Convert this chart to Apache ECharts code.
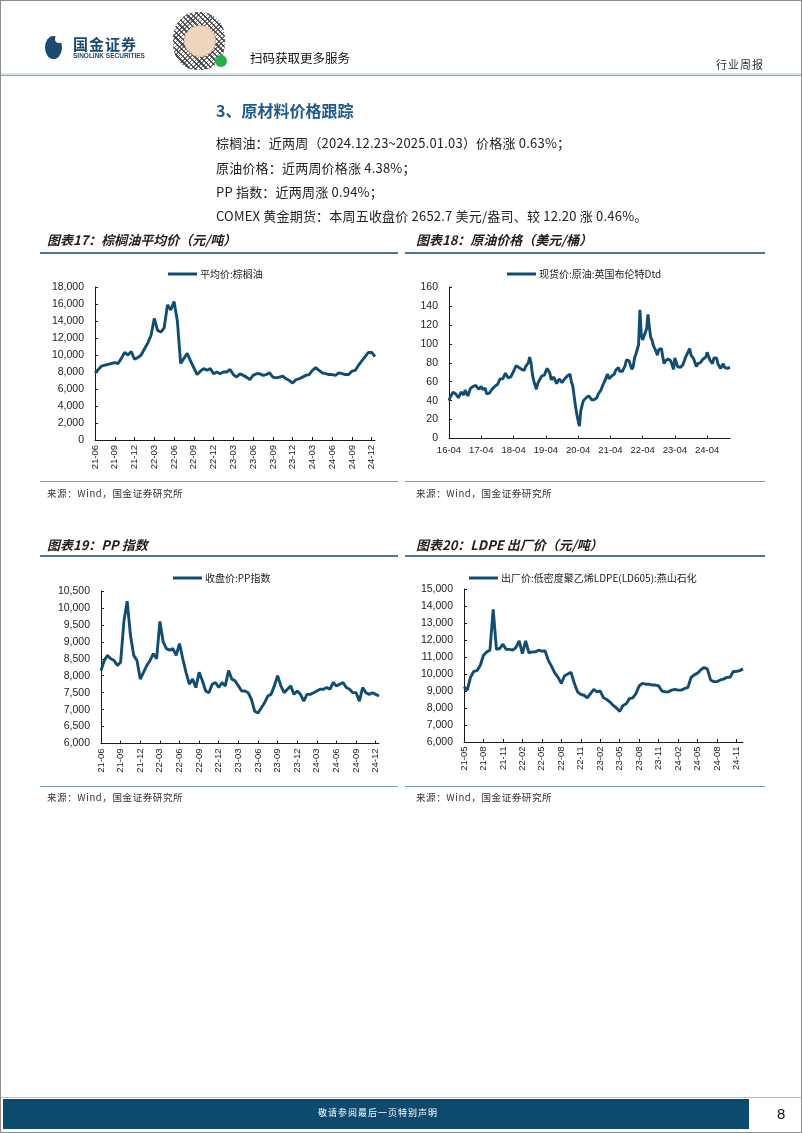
<!DOCTYPE html>
<html>
<head>
<meta charset="utf-8">
<script src="https://cdn.jsdelivr.net/npm/echarts@6/dist/echarts.min.js"></script>
<style>
html,body{margin:0;padding:0;background:#fff;}
#page{position:relative;width:802px;height:1133px;overflow:hidden;font-family:"Noto Sans CJK SC","Noto Sans",sans-serif;color:#222;}
#chart{position:absolute;left:0;top:0;width:802px;height:1133px;}
.t{position:absolute;white-space:nowrap;}
.ln{position:absolute;}
.body{font-size:13px;line-height:18px;left:216px;color:#222;letter-spacing:0.2px;}
.ct{font-size:13px;line-height:18px;font-weight:bold;font-style:italic;color:#1e1e1e;}
.src{font-size:9.5px;line-height:12px;color:#333;letter-spacing:0.6px;}
#frame{position:absolute;left:0;top:0;width:800px;height:1131px;border:1px solid #8c8c8c;pointer-events:none;}
</style>
</head>
<body>
<div id="page">
  <div id="chart"></div>

  <!-- header -->
  <div class="ln" style="left:45px;top:36px;width:17px;height:23px;border-radius:50%;background:#1c4a6f;"></div>
  <div class="ln" style="left:55px;top:35px;width:8px;height:8px;border-radius:50%;background:#fff;"></div>
  <div class="t" style="left:73px;top:35px;font-size:15px;line-height:18px;font-weight:bold;color:#1c4a6f;letter-spacing:1px;">国金证券</div>
  <div class="t" style="left:73px;top:52px;font-size:6.5px;line-height:8px;font-weight:bold;color:#1c4a6f;font-family:'Liberation Sans',sans-serif;">SINOLINK SECURITIES</div>
  <div class="ln" style="left:173px;top:12px;width:52px;height:58px;border-radius:45%;background:repeating-linear-gradient(45deg,#333 0 1.5px,#fff 1.5px 4px),repeating-linear-gradient(-45deg,#555 0 1px,#fff 1px 3px);background-blend-mode:multiply;opacity:0.8;"></div>
  <div class="ln" style="left:184px;top:25px;width:30px;height:30px;border-radius:50%;background:#f0d5bd;border:1px solid #e2b994;"></div>
  <div class="ln" style="left:215px;top:55px;width:12px;height:12px;border-radius:50%;background:#2aae4b;"></div>
  <div class="t" style="left:250px;top:50px;font-size:12.5px;line-height:16px;color:#111;">扫码获取更多服务</div>
  <div class="t" style="left:716px;top:57px;font-size:11px;line-height:15px;color:#333;letter-spacing:1px;">行业周报</div>
  <div class="ln" style="left:1px;top:73px;width:800px;height:2px;background:#d4e6f1;"></div>
  <div class="ln" style="left:1px;top:75px;width:800px;height:1px;background:#9aa5ad;"></div>

  <!-- section text -->
  <div class="t" style="left:216px;top:100px;font-size:16px;line-height:20px;font-weight:bold;color:#1f5a8c;">3、原材料价格跟踪</div>
  <div class="t body" style="top:134px;">棕榈油：近两周（2024.12.23~2025.01.03）价格涨 0.63%；</div>
  <div class="t body" style="top:159px;">原油价格：近两周价格涨 4.38%；</div>
  <div class="t body" style="top:183px;">PP 指数：近两周涨 0.94%；</div>
  <div class="t body" style="top:207px;">COMEX 黄金期货：本周五收盘价 2652.7 美元/盎司、较 12.20 涨 0.46%。</div>

  <!-- chart titles -->
  <div class="t ct" style="left:47px;top:231px;">图表17：棕榈油平均价（元/吨）</div>
  <div class="t ct" style="left:416px;top:231px;">图表18：原油价格（美元/桶）</div>
  <div class="ln" style="left:40px;top:252px;width:358px;height:1.5px;background:#4b7899;"></div>
  <div class="ln" style="left:405px;top:252px;width:360px;height:1.5px;background:#4b7899;"></div>
  <div class="ln" style="left:40px;top:481px;width:358px;height:1px;background:#7e9db2;"></div>
  <div class="ln" style="left:405px;top:481px;width:360px;height:1px;background:#7e9db2;"></div>
  <div class="t src" style="left:47px;top:487px;">来源：Wind，国金证券研究所</div>
  <div class="t src" style="left:416px;top:487px;">来源：Wind，国金证券研究所</div>

  <div class="t ct" style="left:47px;top:536px;">图表19：PP 指数</div>
  <div class="t ct" style="left:416px;top:536px;">图表20：LDPE 出厂价（元/吨）</div>
  <div class="ln" style="left:40px;top:555px;width:358px;height:1.5px;background:#4b7899;"></div>
  <div class="ln" style="left:405px;top:555px;width:360px;height:1.5px;background:#4b7899;"></div>
  <div class="ln" style="left:40px;top:786px;width:358px;height:1px;background:#7e9db2;"></div>
  <div class="ln" style="left:405px;top:786px;width:360px;height:1px;background:#7e9db2;"></div>
  <div class="t src" style="left:47px;top:791px;">来源：Wind，国金证券研究所</div>
  <div class="t src" style="left:416px;top:791px;">来源：Wind，国金证券研究所</div>

  <!-- footer -->
  <div class="ln" style="left:1px;top:1097px;width:800px;height:1px;background:#a9c4d6;"></div>
  <div class="ln" style="left:3px;top:1099px;width:746px;height:30px;background:#0c4a6e;"></div>
  <div class="t" style="left:318px;top:1107px;font-size:9px;line-height:12px;color:#fff;letter-spacing:1px;">敬请参阅最后一页特别声明</div>
  <div class="t" style="left:777px;top:1104px;font-size:15px;line-height:20px;color:#111;font-family:'Liberation Sans',sans-serif;">8</div>
  <div id="frame"></div>
</div>

<script>
// ---------- data ----------
// palm oil average price, semi-monthly from 2021-06
const palmValues = [7900,8300,8700,8800,8900,9000,9100,9000,9600,10300,10000,10400,9500,9700,10000,10700,
  11400,12300,14300,12900,12700,13200,15900,15300,16300,14000,9000,9600,10200,9300,8500,7700,
  8100,8400,8200,8400,7800,8000,7800,8000,8000,8300,7700,7400,7800,7600,7400,7100,
  7600,7800,7800,7600,7700,7900,7400,7300,7400,7500,7200,7000,6700,7100,7200,7400,
  7600,7700,8200,8500,8200,7900,7800,7700,7700,7600,7900,7800,7700,7700,8100,8200,
  8800,9300,9800,10300,10300,9800];
// Brent Dtd spot price, semi-monthly from 2016-04
const brentValues = [
  40,44,46,49,50,47,46,43,45,49,47,46,51,50,45,46,53,55,
  55,55,56,56,52,51,55,52,50,53,47,45,48,50,52,51,55,57,57,58,63,62,63,65,
  69,69,64,65,65,68,71,74,77,79,75,74,73,73,72,76,78,80,86,80,68,61,60,52,
  58,61,62,66,66,67,71,74,72,69,62,64,65,63,58,60,63,62,59,61,63,64,66,68,
  68,60,56,54,35,26,19,13,29,35,40,42,43,44,45,46,41,42,41,39,43,47,49,51,
  55,56,61,65,68,63,64,66,68,68,72,74,75,71,70,71,74,77,83,85,82,77,73,76,
  85,89,94,99,136,110,104,106,112,116,131,118,107,104,98,100,92,88,94,93,95,86,79,82,
  80,84,85,82,82,73,85,83,76,75,75,74,78,82,86,85,92,95,88,90,84,80,76,79,
  78,80,82,84,84,86,91,89,83,82,79,85,87,85,79,79,74,72,79,75,73,74,73,75];
// PP index close, semi-monthly from 2021-06
const ppValues = [8150,8450,8600,8500,8450,8300,8400,9600,10200,9200,8600,8450,7900,8100,8300,8450,
  8650,8500,9600,9000,8800,8750,8800,8600,8950,8500,8100,7750,7900,7650,8100,7850,
  7550,7500,7750,7800,7650,7800,7700,8150,7900,7850,7700,7550,7550,7500,7300,6950,
  6900,7050,7200,7400,7450,7700,8000,7700,7500,7600,7700,7450,7550,7450,7250,7450,
  7450,7500,7550,7600,7600,7650,7600,7800,7700,7750,7800,7650,7600,7500,7500,7250,
  7650,7500,7450,7500,7450,7400];
// LDPE (LD605) ex-factory price, semi-monthly from 2021-05
const ldpeValues = [9250,9050,9800,10150,10200,10500,11100,11300,11400,13800,11450,11500,11750,11450,11450,11400,
  11550,11950,11200,11950,11250,11300,11300,11400,11350,11350,10800,10450,10050,9800,9450,9900,
  10000,10100,9450,8950,8800,8750,8600,8850,9100,8950,9000,8600,8500,8350,8150,8000,
  7800,8150,8250,8550,8600,8850,9300,9450,9400,9400,9350,9350,9300,9000,8950,8950,
  9050,9100,9050,9050,9150,9200,9800,9950,10050,10250,10380,10300,9650,9550,9550,9650,
  9700,9800,9800,10150,10150,10200,10300];

const seriesNames = ['平均价:棕榈油','现货价:原油:英国布伦特Dtd','收盘价:PP指数','出厂价:低密度聚乙烯LDPE(LD605):燕山石化'];

function halfMonthDates(year, month, n) {
  const out = [];
  for (let i = 0; i < n; i++) {
    const k = month - 1 + Math.floor(i / 2);
    const y = year + Math.floor(k / 12);
    const m = (k % 12) + 1;
    out.push(y + '-' + String(m).padStart(2, '0') + (i % 2 ? '-16' : '-01'));
  }
  return out;
}
const palmDates = halfMonthDates(2021, 6, palmValues.length);
const brentDates = halfMonthDates(2016, 4, brentValues.length);
const ppDates = halfMonthDates(2021, 6, ppValues.length);
const ldpeDates = halfMonthDates(2021, 5, ldpeValues.length);

// ---------- chart ----------
const LINE = '#0f4d74';
const AX = '#1a1a1a';
const labelFont = {fontFamily: 'Liberation Sans, Arial, sans-serif', color: '#222'};
const fmtY = v => Number(v).toLocaleString('en-US');
const fmtX = v => v.slice(2, 7);

function xAx(gi, dates, step, rotate, margin) {
  return {
    type: 'category', gridIndex: gi, data: dates, boundaryGap: false,
    axisLine: {lineStyle: {color: AX, width: 1}},
    axisTick: {inside: true, length: 3, interval: step - 1, lineStyle: {color: AX}},
    axisLabel: Object.assign({interval: step - 1, rotate: rotate, margin: margin, fontSize: 9.5, formatter: fmtX}, labelFont),
    splitLine: {show: false}
  };
}
function yAx(gi, min, max, interval) {
  return {
    type: 'value', gridIndex: gi, min: min, max: max, interval: interval,
    axisLine: {show: true, lineStyle: {color: AX, width: 1}},
    axisTick: {show: true, inside: true, length: 3, lineStyle: {color: AX}},
    axisLabel: Object.assign({margin: 11, fontSize: 10.5, formatter: fmtY}, labelFont),
    splitLine: {show: false}
  };
}
function ser(i, data) {
  return {type: 'line', name: seriesNames[i], xAxisIndex: i, yAxisIndex: i, data: data,
    showSymbol: false, symbol: 'none', lineStyle: {color: LINE, width: 2.9}, itemStyle: {color: LINE}, animation: false};
}
function leg(i, left, top) {
  return {data: [seriesNames[i]], left: left, top: top, padding: 0, icon: 'rect', itemWidth: 29, itemHeight: 3,
    itemGap: 0, textStyle: {fontSize: 10, color: '#222', fontFamily: 'Noto Sans CJK SC, sans-serif', padding: [0, 0, 0, -2]}, selectedMode: false};
}

const chart = echarts.init(document.getElementById('chart'), null, {renderer: 'canvas'});
chart.setOption({
  animation: false,
  grid: [
    {left: 95, top: 287, width: 280, height: 153},
    {left: 449, top: 287, width: 281, height: 151.5},
    {left: 101, top: 591, width: 278, height: 152.5},
    {left: 464, top: 589, width: 279, height: 153}
  ],
  legend: [leg(0, 168, 269), leg(1, 507, 269), leg(2, 173, 573), leg(3, 469, 573)],
  xAxis: [
    xAx(0, palmDates, 6, 90, 5),
    xAx(1, brentDates, 24, 0, 7),
    xAx(2, ppDates, 6, 90, 5),
    xAx(3, ldpeDates, 6, 90, 4.5)
  ],
  yAxis: [
    yAx(0, 0, 18000, 2000),
    yAx(1, 0, 160, 20),
    yAx(2, 6000, 10500, 500),
    yAx(3, 6000, 15000, 1000)
  ],
  series: [ser(0, palmValues), ser(1, brentValues), ser(2, ppValues), ser(3, ldpeValues)]
});
</script>
</body>
</html>
